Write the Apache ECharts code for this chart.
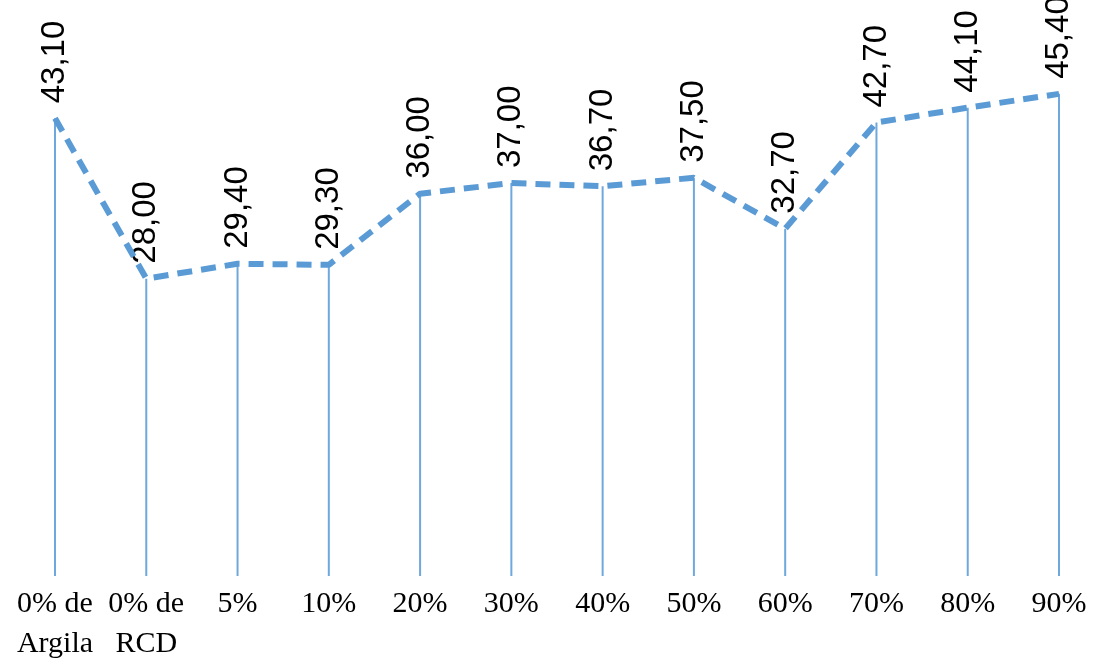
<!DOCTYPE html>
<html>
<head>
<meta charset="utf-8">
<script src="https://cdn.jsdelivr.net/npm/echarts@6/dist/echarts.min.js"></script>
<style>
  html, body { margin: 0; padding: 0; background: #ffffff; }
  #chart { width: 1095px; height: 664px; }
</style>
</head>
<body>
<div id="chart"></div>
<script>
// Mix proportions (categories) and measured values
const categories = ['0% de\nArgila', '0% de\nRCD', '5%', '10%', '20%', '30%', '40%', '50%', '60%', '70%', '80%', '90%'];
const values = [43.10, 28.00, 29.40, 29.30, 36.00, 37.00, 36.70, 37.50, 32.70, 42.70, 44.10, 45.40];

const blue = '#5B9BD5';
const fmt = v => v.toFixed(2).replace('.', ',');

const chart = echarts.init(document.getElementById('chart'), null, { renderer: 'canvas' });
chart.setOption({
  animation: false,
  backgroundColor: '#ffffff',
  grid: { left: 55, right: 36, top: 45, bottom: 74, containLabel: false },
  xAxis: {
    type: 'category',
    data: categories,
    boundaryGap: false,
    axisLine: { show: false },
    axisTick: { show: false },
    splitLine: { show: false },
    axisLabel: {
      interval: 0,
      margin: 8,
      color: '#000000',
      fontFamily: 'Liberation Serif',
      fontSize: 30,
      lineHeight: 40,
      verticalAlign: 'top'
    }
  },
  yAxis: {
    type: 'value',
    min: 0,
    max: 50,
    show: false,
    splitLine: { show: false }
  },
  series: [
    {
      // vertical drop lines from each point down to the baseline, carrying the value labels
      type: 'bar',
      data: values,
      barWidth: 2,
      silent: true,
      itemStyle: { color: '#6FA8DC' },
      label: {
        show: true,
        position: 'top',
        rotate: 90,
        align: 'left',
        verticalAlign: 'middle',
        distance: 15,
        color: '#000000',
        fontFamily: 'Liberation Sans',
        fontSize: 33,
        formatter: p => fmt(p.value)
      },
      z: 1
    },
    {
      type: 'line',
      data: values,
      symbol: 'none',
      clip: false,
      lineStyle: { color: blue, width: 6, type: [15, 9], cap: 'butt' },
      z: 2
    }
  ]
});
</script>
</body>
</html>
